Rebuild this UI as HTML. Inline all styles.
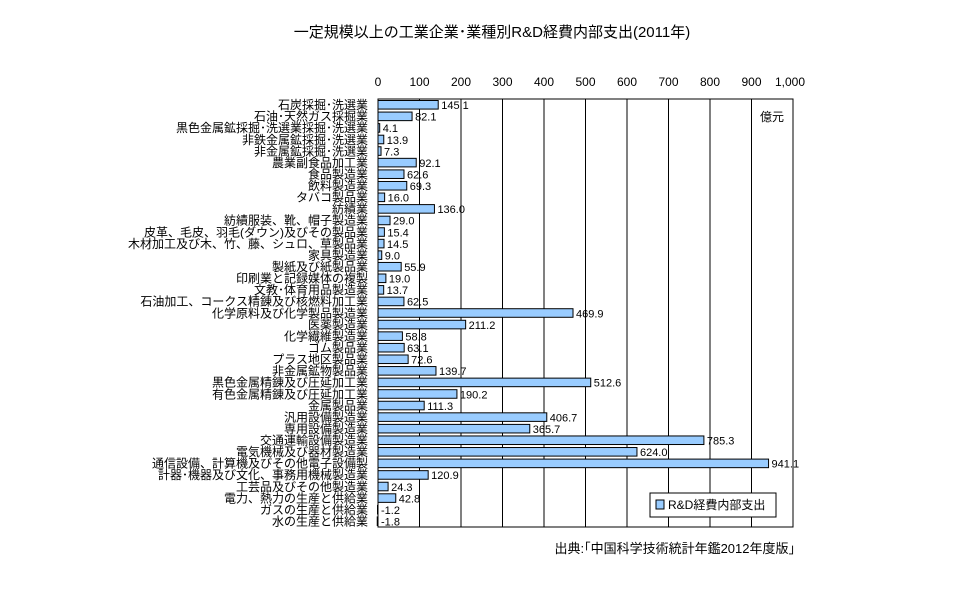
<!DOCTYPE html>
<html><head><meta charset="utf-8"><style>
body{margin:0;background:#fff}
svg text{font-family:"Liberation Sans","Noto Sans CJK JP",sans-serif;fill:#000}
</style></head><body>
<svg width="960" height="600" viewBox="0 0 960 600" xmlns="http://www.w3.org/2000/svg">
<text x="492" y="37" font-size="15" text-anchor="middle">一定規模以上の工業企業･業種別R&amp;D経費内部支出(2011年)</text>
<g font-size="12" text-anchor="middle">
<text x="378" y="86">0</text><text x="419.5" y="86">100</text><text x="461" y="86">200</text><text x="502.5" y="86">300</text><text x="544" y="86">400</text><text x="585.5" y="86">500</text><text x="627" y="86">600</text><text x="668.5" y="86">700</text><text x="710" y="86">800</text><text x="751.5" y="86">900</text><text x="790" y="86">1,000</text>
</g>
<g stroke="#000" stroke-width="1">
<line x1="419.5" y1="99" x2="419.5" y2="527"/><line x1="461" y1="99" x2="461" y2="527"/><line x1="502.5" y1="99" x2="502.5" y2="527"/><line x1="544" y1="99" x2="544" y2="527"/><line x1="585.5" y1="99" x2="585.5" y2="527"/><line x1="627" y1="99" x2="627" y2="527"/><line x1="668.5" y1="99" x2="668.5" y2="527"/><line x1="710" y1="99" x2="710" y2="527"/><line x1="751.5" y1="99" x2="751.5" y2="527"/>
</g>
<rect x="378" y="99" width="415" height="428" fill="none" stroke="#000"/>
<text x="772" y="121" font-size="12" text-anchor="middle">億元</text>
<g id="bars"></g>
<rect x="650" y="493" width="126" height="24" fill="#fff" stroke="#000"/>
<rect x="656" y="500" width="8" height="9" fill="#99ccff" stroke="#000"/>
<text x="668" y="509" font-size="12">R&amp;D経費内部支出</text>
<text x="795" y="553" font-size="13" text-anchor="end">出典:｢中国科学技術統計年鑑2012年度版｣</text>
</svg>
<script>
var d=[["石炭採掘･洗選業",145.1],["石油･天然ガス採掘業",82.1],["黒色金属鉱採掘･洗選業採掘･洗選業",4.1],["非鉄金属鉱採掘･洗選業",13.9],["非金属鉱採掘･洗選業",7.3],["農業副食品加工業",92.1],["食品製造業",62.6],["飲料製造業",69.3],["タバコ製品業",16.0],["紡績業",136.0],["紡績服装、靴、帽子製造業",29.0],["皮革、毛皮、羽毛(ダウン)及びその製品業",15.4],["木材加工及び木、竹、藤、シュロ、草製品業",14.5],["家具製造業",9.0],["製紙及び紙製品業",55.9],["印刷業と記録媒体の複製",19.0],["文教･体育用品製造業",13.7],["石油加工、コークス精錬及び核燃料加工業",62.5],["化学原料及び化学製品製造業",469.9],["医薬製造業",211.2],["化学繊維製造業",58.8],["ゴム製品業",63.1],["プラス地区製品業",72.6],["非金属鉱物製品業",139.7],["黒色金属精錬及び圧延加工業",512.6],["有色金属精錬及び圧延加工業",190.2],["金属製品業",111.3],["汎用設備製造業",406.7],["専用設備製造業",365.7],["交通運輸設備製造業",785.3],["電気機械及び器材製造業",624.0],["通信設備、計算機及びその他電子設備製",941.1],["計器･機器及び文化、事務用機械製造業",120.9],["工芸品及びその他製造業",24.3],["電力、熱力の生産と供給業",42.8],["ガスの生産と供給業",-1.2],["水の生産と供給業",-1.8]];
var ns="http://www.w3.org/2000/svg",g=document.getElementById("bars"),x0=378,s=0.415,y0=99,h=428/d.length;
d.forEach(function(e,i){var y=y0+i*h,w=e[1]*s,r=document.createElementNS(ns,"rect");
r.setAttribute("x",w<0?x0+w:x0);r.setAttribute("y",y+1.5);r.setAttribute("width",Math.abs(w));r.setAttribute("height",h-3);r.setAttribute("fill","#99ccff");r.setAttribute("stroke","#000");g.appendChild(r);
var t=document.createElementNS(ns,"text");t.setAttribute("x",368);t.setAttribute("y",y+h-1.5);t.setAttribute("font-size","12");t.setAttribute("text-anchor","end");t.textContent=e[0];g.appendChild(t);
var v=document.createElementNS(ns,"text");v.setAttribute("x",x0+Math.max(w,0)+3);v.setAttribute("y",y+h-1.5);v.setAttribute("font-size","11");v.textContent=e[1].toFixed(1);g.appendChild(v);});
</script>
</body></html>
